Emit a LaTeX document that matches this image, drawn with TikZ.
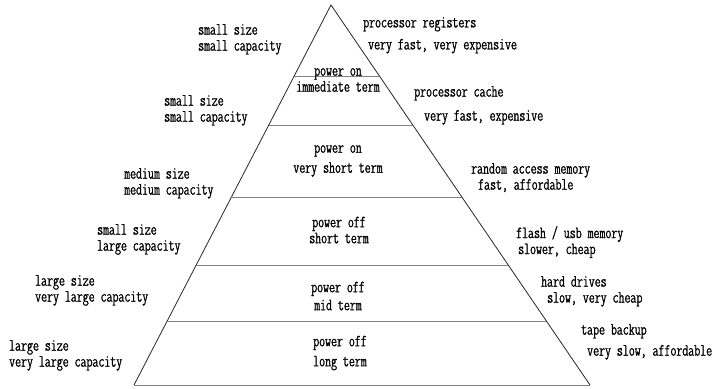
\documentclass[tikz,border=0pt]{standalone}
\usepackage{fontspec}
\usetikzlibrary{calc,positioning}
\newfontfamily\pyrtt{lmmonoltcond10-regular.otf}[FakeBold=1.2]
\newcommand{\pyrfont}{\pyrtt\fontsize{17}{16}\selectfont}
\begin{document}
\begin{tikzpicture}[x=1pt,y=-1pt]
    \tikzstyle{side}=[draw=black!85, line width=0.8pt]
    \tikzstyle{level}=[draw=black!50, line width=0.8pt]
    \tikzstyle{lbl}=[font=\pyrfont, inner sep=0pt, align=left, anchor=north west]
    \tikzstyle{band}=[font=\pyrfont, inner sep=0pt, align=center]
    \useasboundingbox (0,0) rectangle (725,388);
    % outline of the pyramid
    \coordinate (top) at (331,5);
    \coordinate (bl) at (134,385);
    \coordinate (br) at (590,385);
    \draw[side] (bl) -- (top) -- (br);
    \draw[level] (bl) -- (br);
    % levels
    \foreach \y/\n in {76/1,125/2,197/3,265/4,321/5} {
        \coordinate (l\n) at ($(top)!{(\y-5)/380}!(bl)$);
        \coordinate (r\n) at ($(top)!{(\y-5)/380}!(br)$);
        \draw[level] (l\n) -- (r\n);
    }
    % text inside the levels
    \node[band] (b1) at (338,80) {power on\\immediate term};
    \node[band] (b2) at (338,161) {power on\\[4pt]very short term};
    \node[band] (b3) at (339,230) {power off\\short term};
    \node[band] (b4) at (338,296) {power off\\[2pt]mid term};
    \node[band] (b5) at (340,353) {power off\\[4pt]long term};
    % size and capacity
    \node[lbl] (s1) at (198,24) {small size\\small capacity};
    \node[lbl] (s2) at (164,95) {small size\\small capacity};
    \node[lbl] (s3) at (124,168) {medium size\\medium capacity};
    \node[lbl] (s4) at (97,224) {small size\\large capacity};
    \node[lbl] (s5) at (35,275) {large size\\very large capacity};
    \node[lbl] (s6) at (9,340) {large size\\very large capacity};
    % memory types
    \node[lbl] (m1) at (363,17) {processor registers\\[6pt]\hspace*{5pt}very fast, very expensive};
    \node[lbl] (m2) at (414,86) {processor cache\\[8pt]\hspace*{10pt}very fast, expensive};
    \node[lbl] (m3) at (471,163) {random access memory\\\hspace*{7pt}fast, affordable};
    \node[lbl] (m4) at (516,226) {flash / usb memory\\\hspace*{2pt}slower, cheap};
    \node[lbl] (m5) at (541,276) {hard drives\\\hspace*{6pt}slow, very cheap};
    \node[lbl] (m6) at (581,324) {tape backup\\[5pt]\hspace*{6pt}very slow, affordable};
\end{tikzpicture}
\end{document}
